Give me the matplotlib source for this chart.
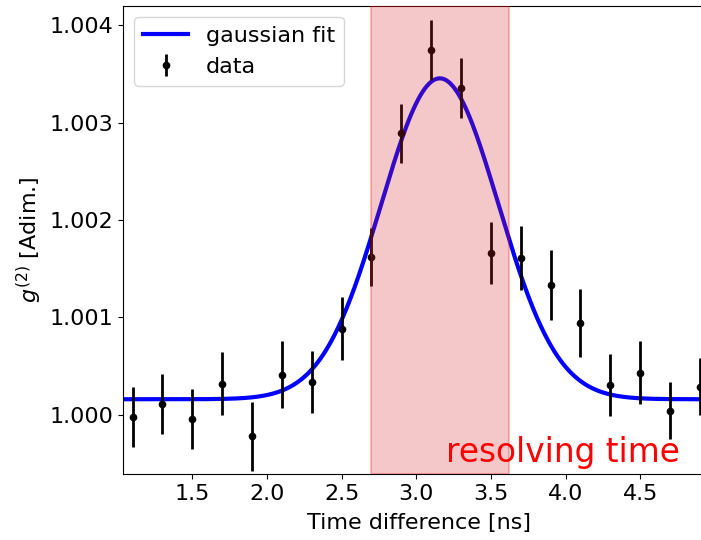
"""g2 correlation vs time difference, with gaussian fit and resolving-time band."""

import matplotlib

matplotlib.use("Agg")
import matplotlib.pyplot as plt
import numpy as np

time_ns = [1.1, 1.3, 1.5, 1.7, 1.9, 2.1, 2.3, 2.5, 2.7, 2.9,
           3.1, 3.3, 3.5, 3.7, 3.9, 4.1, 4.3, 4.5, 4.7, 4.9]
g2 = [0.999983, 1.000110, 0.999956, 1.000321, 0.999781, 1.000414, 1.000342,
      1.000883, 1.001622, 1.002888, 1.003747, 1.003354, 1.001660, 1.001609,
      1.001335, 1.000941, 1.000308, 1.000434, 1.000044, 1.000291]
g2_err = [0.000308, 0.000308, 0.000308, 0.000323, 0.000354, 0.000347, 0.000318,
          0.000323, 0.000295, 0.000300, 0.000308, 0.000310, 0.000315, 0.000325,
          0.000356, 0.000346, 0.000321, 0.000321, 0.000290, 0.000296]

# gaussian fit parameters: baseline, amplitude, centre, sigma
FIT_BASE = 1.000161
FIT_AMP = 0.003292
FIT_MU = 3.158
FIT_SIGMA = 0.3933

# resolving time band = FWHM of the fit around the centre
FWHM = 2 * np.sqrt(2 * np.log(2)) * FIT_SIGMA


def gauss(x, base, amp, mu, sigma):
    return base + amp * np.exp(-(x - mu) ** 2 / (2 * sigma ** 2))


def main():
    plt.rcParams["font.size"] = 16
    fig = plt.figure(figsize=(7.01, 5.40), dpi=100)
    ax = fig.add_axes([0.1759, 0.1222, 0.8438, 0.8672])

    xf = np.linspace(1.0, 5.0, 600)
    ax.plot(xf, gauss(xf, FIT_BASE, FIT_AMP, FIT_MU, FIT_SIGMA),
            color="blue", lw=3, label="gaussian fit")
    ax.errorbar(time_ns, g2, yerr=g2_err, fmt="o", color="black", ms=4.5,
                elinewidth=2, label="data")

    ax.axvspan(FIT_MU - FWHM / 2, FIT_MU + FWHM / 2, facecolor="tab:red",
               edgecolor="red", lw=1.5, alpha=0.25, zorder=3)
    ax.text(3.2, 0.99952, "resolving time", color="red", fontsize=23.6,
            ha="left", va="baseline", zorder=4)

    ax.set_xlim(1.038, 5.0)
    ax.set_ylim(0.999394, 1.004198)
    ax.set_xticks([1.5, 2.0, 2.5, 3.0, 3.5, 4.0, 4.5])
    ax.set_yticks([1.000, 1.001, 1.002, 1.003, 1.004])
    ax.set_yticklabels(["1.000", "1.001", "1.002", "1.003", "1.004"])
    ax.set_xlabel("Time difference [ns]", labelpad=7)
    ax.set_ylabel("$g^{(2)}$ [Adim.]")
    ax.legend(loc="upper left")

    fig.savefig("out.png", dpi=100)
    plt.close(fig)


if __name__ == "__main__":
    main()
